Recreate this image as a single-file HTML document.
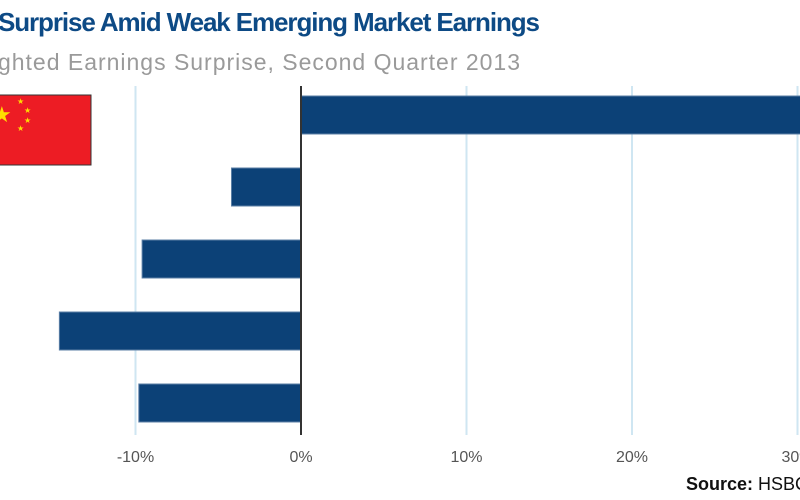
<!DOCTYPE html>
<html><head><meta charset="utf-8"><style>
body{margin:0;width:800px;height:500px;overflow:hidden;background:#fff;font-family:"Liberation Sans",sans-serif}
svg{display:block}
</style></head><body>
<svg width="800" height="500">
<text x="-2" y="31" font-size="26" font-weight="bold" fill="#0d4a85" textLength="542">Surprise Amid Weak Emerging Market Earnings</text>
<text x="-2" y="70" font-size="23" fill="#9a9a9a" textLength="522">ghted Earnings Surprise, Second Quarter 2013</text>
<g>
<rect x="-2" y="95" width="93" height="70" fill="#ed1c24" stroke="#333" stroke-width="1"/>
<text x="-8" y="122" font-size="22" fill="#ffde00">★</text>
<text x="17" y="104" font-size="8" fill="#ffde00">★</text>
<text x="24" y="113" font-size="8" fill="#ffde00">★</text>
<text x="24" y="123" font-size="8" fill="#ffde00">★</text>
<text x="17" y="131" font-size="8" fill="#ffde00">★</text>
</g>
<g id="grid"></g><g id="bars"></g><g id="ticks"></g>
<text x="686" y="490" font-size="18" font-weight="bold" fill="#111">Source: <tspan font-weight="normal">HSBC</tspan></text>
</svg>
<script>
const categories=["China","Country 2","Country 3","Country 4","Country 5"];
const values=[31,-4.2,-9.6,-14.6,-9.8];
const tickValues=[-10,0,10,20,30];
const tickLabels=["-10%","0%","10%","20%","30%"];
const NS="http://www.w3.org/2000/svg";
const x=v=>301+v*16.55;
const y=i=>96+i*72;
const g=document.getElementById('grid'),b=document.getElementById('bars'),t=document.getElementById('ticks');
tickValues.forEach((v,i)=>{
 if(v!==0){const l=document.createElementNS(NS,'line');
 l.setAttribute('x1',x(v));l.setAttribute('x2',x(v));l.setAttribute('y1',86);l.setAttribute('y2',435);
 l.setAttribute('stroke','#cfe6f2');l.setAttribute('stroke-width',2);
 
 
 g.appendChild(l);}
 const tx=document.createElementNS(NS,'text');
 tx.setAttribute('x',x(v));tx.setAttribute('y',462);tx.setAttribute('text-anchor','middle');
 tx.setAttribute('font-size',16);tx.setAttribute('fill','#555');tx.textContent=tickLabels[i];
 
 
 t.appendChild(tx);
});
values.forEach((v,i)=>{
 const r=document.createElementNS(NS,'rect');
 const x0=Math.min(x(0),x(v)),w=Math.abs(x(v)-x(0));
 r.setAttribute('x',x0);r.setAttribute('y',y(i));r.setAttribute('width',w);r.setAttribute('height',38);
 r.setAttribute('fill','#0c4177');r.setAttribute('stroke','#5b7fa6');r.setAttribute('stroke-width',1);
 
 
 b.appendChild(r);
});
const z=document.createElementNS(NS,'line');
z.setAttribute('x1',301);z.setAttribute('x2',301);z.setAttribute('y1',86);z.setAttribute('y2',435);
z.setAttribute('stroke','#333');z.setAttribute('stroke-width',2);


b.appendChild(z);
</script>
</body></html>
